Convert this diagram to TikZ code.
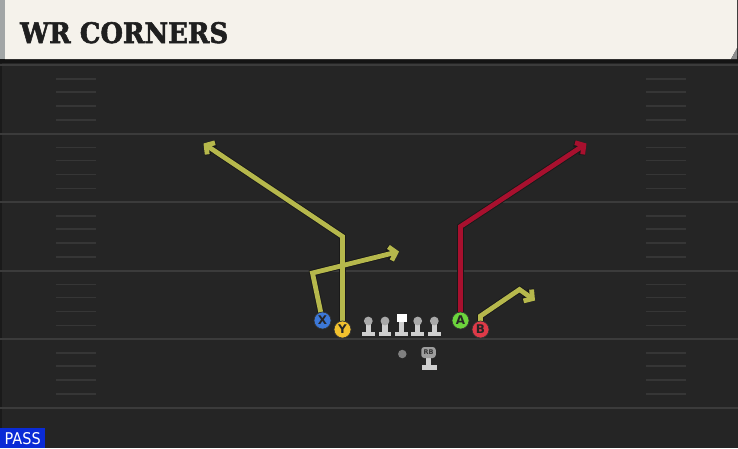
\documentclass[tikz,border=0pt]{standalone}
\usepackage{fontspec}
\setsansfont{DejaVu Sans}
\newfontfamily\titlefont[FakeBold=2]{DejaVu Serif}
\usetikzlibrary{arrows.meta}
\definecolor{fieldbg}{HTML}{252525}
\definecolor{yardcol}{HTML}{3B3B3B}
\definecolor{hashcol}{HTML}{363636}
\definecolor{headbg}{HTML}{F5F2EB}
\definecolor{headstrip}{HTML}{A2A6A6}
\definecolor{olive}{HTML}{B6B84C}
\definecolor{crimson}{HTML}{A8102E}
\definecolor{xblue}{HTML}{3C78D8}
\definecolor{yyellow}{HTML}{F2C12E}
\definecolor{agreen}{HTML}{6CD43C}
\definecolor{bred}{HTML}{DE3A48}
\definecolor{lmgray}{HTML}{CFCFCF}
\definecolor{lmhead}{HTML}{A9A9A9}
\definecolor{passblue}{HTML}{0A2BD6}
\pgfdeclarelayer{field}
\pgfdeclarelayer{routes}
\pgfsetlayers{field,routes,main}
\tikzset{
  yard/.style={draw=yardcol, line width=2pt},
  hash/.style={draw=hashcol, line width=1.4pt},
  routebg/.style={draw=black!90, line width=6.6pt, line join=miter,
    -{Straight Barb[length=6pt,width=14pt]}},
  routefg/.style={draw=#1, line width=4.8pt, line join=miter,
    -{Straight Barb[length=6pt,width=14pt]}},
  player/.style={circle, fill=#1, draw=black!80, line width=0.7pt,
    minimum size=17pt, inner sep=0pt, font=\sffamily\bfseries\fontsize{12}{12}\selectfont,
    text=black!85},
  lmbody/.style={inner sep=0pt, minimum size=0pt},
  pics/lineman/.style={code={
    \fill[lmgray] (-2.6,0) rectangle (2.6,11);
    \fill[lmgray] (-6.3,10.5) rectangle (6.3,14.8);
    \fill[lmhead] (0,0) circle (4.4);
    \node[lmbody] (-body) at (0,7) {};
  }},
  pics/center/.style={code={
    \fill[white] (-4.8,-7.2) rectangle (4.8,1.2);
    \fill[lmgray] (-2.6,1) rectangle (2.6,10.5);
    \fill[lmgray] (-6.3,10.5) rectangle (6.3,14.8);
    \node[lmbody] (-body) at (0,3) {};
  }},
}
\begin{document}
\begin{tikzpicture}[x=1pt,y=-1pt]
\useasboundingbox (0,0) rectangle (738,448);
\begin{pgfonlayer}{field}
  \fill[fieldbg] (0,0) rectangle (738,448);
  \draw[draw=black!30!fieldbg, line width=1.2pt] (1,62) -- (1,448);
  % yard lines
  \foreach \y in {65,133.5,202,270.5,339,407.5}
    \draw[yard] (0,\y) -- (738,\y);
  % hash marks
  \foreach \y in {65,133.5,202,270.5,339}{
    \foreach \d in {14,27,41,55}{
      \draw[hash] (56,\y+\d) -- (96,\y+\d);
      \draw[hash] (646,\y+\d) -- (686,\y+\d);
    }
  }
  % header
  \fill[black!92] (0,56) rectangle (738,63);
  \fill[headbg] (5,0) -- (737,0) -- (737,48) -- (731,59) -- (5,59) -- cycle;
  \fill[headstrip] (0,0) rectangle (5,59);
  \fill[black!45] (737,48) -- (737,59) -- (731,59) -- cycle;
\end{pgfonlayer}

\node[anchor=base west, inner sep=0pt, text=black!88] (title) at (20,43)
  {\resizebox{208pt}{21pt}{\titlefont\bfseries WR CORNERS}};

% players
\node[player=xblue] (X) at (322.5,320.5) {X};
\node[player=yyellow] (Y) at (342.5,329.5) {Y};
\node[player=agreen] (A) at (460.5,320.5) {A};
\node[player=bred] (B) at (480.5,329.5) {B};

% line
\pic (LT) at (368.3,321) {lineman};
\pic (LG) at (385,321) {lineman};
\pic (C) at (401.7,321) {center};
\pic (RG) at (417.7,321) {lineman};
\pic (RT) at (434.3,321) {lineman};

% backfield
\node[circle, fill=black!50, minimum size=8.5pt, inner sep=0pt] (QB) at (402.3,354) {};
\fill[lmgray] (426,357) rectangle (431,366);
\fill[lmgray] (421.5,365) rectangle (436.5,369.5);
\node[fill=black!38, rounded corners=3pt, minimum width=14.5pt, minimum height=11pt,
  inner sep=0pt, font=\sffamily\bfseries\fontsize{6.5}{6.5}\selectfont, text=black!80]
  (RB) at (428.5,352.5) {RB};

% route end points
\coordinate (xbreak) at (312.5,273);
\coordinate (xend) at (399,251.5);
\coordinate (ybreak) at (342.5,236.5);
\coordinate (yend) at (203.5,143.5);
\coordinate (abreak) at (460.5,226.5);
\coordinate (aend) at (586.5,143.5);
\coordinate (bstem) at (480.5,316);
\coordinate (bbreak) at (519.5,289.5);
\coordinate (bend) at (535,300.5);

\begin{pgfonlayer}{routes}
  \draw[routebg] (Y.center) -- (ybreak) -- (yend);
  \draw[routebg] (X.center) -- (xbreak) -- (xend);
  \draw[routebg] (A.center) -- (abreak) -- (aend);
  \draw[routebg] (B.center) -- (bstem) -- (bbreak) -- (bend);
  \draw[routefg=olive] (Y.center) -- (ybreak) -- (yend);
  \draw[routefg=olive] (X.center) -- (xbreak) -- (xend);
  \draw[routefg=crimson] (A.center) -- (abreak) -- (aend);
  \draw[routefg=olive] (B.center) -- (bstem) -- (bbreak) -- (bend);
\end{pgfonlayer}

% play type label
\node[fill=passblue, anchor=north west, minimum width=45pt, minimum height=20pt,
  inner sep=0pt, text=white] (pass) at (0,428)
  {\resizebox{36pt}{12pt}{\sffamily PASS}};
\end{tikzpicture}
\end{document}
